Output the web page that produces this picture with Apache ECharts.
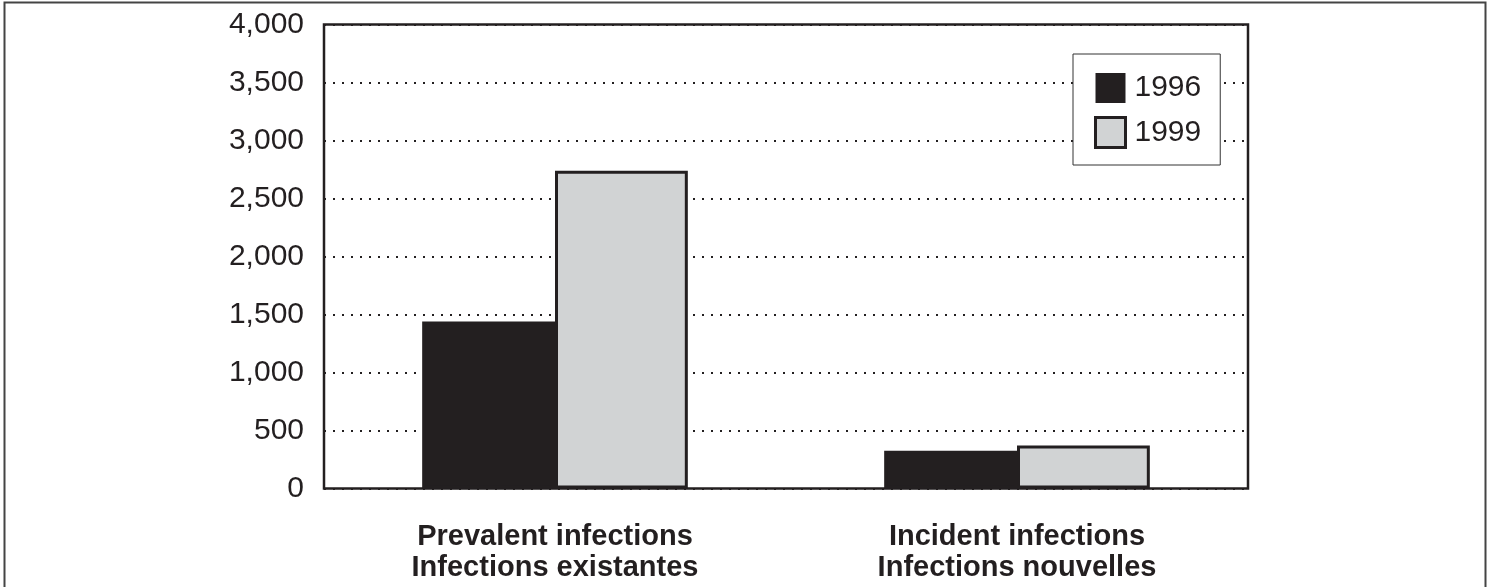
<!DOCTYPE html>
<html>
<head>
<meta charset="utf-8">
<script src="https://cdn.jsdelivr.net/npm/echarts@6/dist/echarts.min.js"></script>
<style>
  html, body { margin: 0; padding: 0; background: #fff; }
  #chart { width: 1491px; height: 587px; }
</style>
</head>
<body>
<div id="chart"></div>
<script>
// Categories (bilingual, two lines each)
const categories = [
  'Prevalent infections\nInfections existantes',
  'Incident infections\nInfections nouvelles'
];
// Series
const years = ['1996', '1999'];
const values1996 = [1440, 325];
const values1999 = [2740, 370];
// Value axis
const yMin = 0;
const yMax = 4000;
const yStep = 500;

const FONT = '"Liberation Sans Narrow", "Arial Narrow", "Liberation Sans", Arial, sans-serif';
const INK = '#231f20';

const chart = echarts.init(document.getElementById('chart'), null, { renderer: 'canvas' });

chart.setOption({
  backgroundColor: '#ffffff',
  animation: false,
  grid: {
    left: 324, right: 243, top: 24.5, bottom: 98.5,
    show: true, borderColor: INK, borderWidth: 2.5, backgroundColor: 'transparent',
    containLabel: false
  },
  legend: {
    orient: 'vertical',
    left: 1073, top: 54,
    padding: [19, 19, 16, 21],
    itemWidth: 30, itemHeight: 30, itemGap: 13,
    icon: 'rect',
    backgroundColor: '#ffffff',
    borderColor: '#333333', borderWidth: 1,
    textStyle: { fontFamily: FONT, fontSize: 30, color: INK, padding: [0, 0, 0, 4] },
    data: [
      { name: years[0], itemStyle: { borderWidth: 0 } },
      { name: years[1], itemStyle: { borderWidth: 3, borderColor: INK } }
    ]
  },
  xAxis: {
    type: 'category',
    data: categories,
    axisLine: { show: false },
    axisTick: { show: false },
    axisLabel: {
      margin: 33,
      fontFamily: FONT, fontSize: 29, fontWeight: 'bold', color: INK,
      lineHeight: 31
    }
  },
  yAxis: {
    type: 'value',
    min: yMin, max: yMax, interval: yStep,
    axisLine: { show: false },
    axisTick: { show: false },
    axisLabel: {
      margin: 20,
      fontFamily: FONT, fontSize: 30, color: INK,
      formatter: v => v.toLocaleString('en-US')
    },
    splitLine: {
      show: true,
      lineStyle: { color: INK, width: 2, type: [2, 7], dashOffset: 0 }
    }
  },
  series: [
    {
      name: years[0],
      type: 'bar',
      data: values1996,
      barGap: '0%',
      barCategoryGap: '42.5%',
      itemStyle: { color: INK, borderColor: INK, borderWidth: 3 }
    },
    {
      name: years[1],
      type: 'bar',
      data: values1999,
      barGap: '0%',
      barCategoryGap: '42.5%',
      itemStyle: { color: '#d1d3d4', borderColor: INK, borderWidth: 3 }
    }
  ],
  graphic: [
    {
      type: 'polyline',
      silent: true,
      shape: { points: [[4.5, 600], [4.5, 2.5], [1485.5, 2.5], [1485.5, 600]] },
      style: { fill: null, stroke: '#444444', lineWidth: 2 }
    }
  ]
});
</script>
</body>
</html>
